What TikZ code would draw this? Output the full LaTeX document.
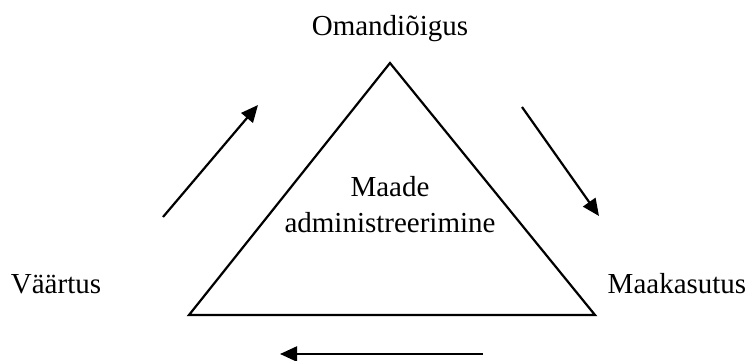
\documentclass[tikz,border=0pt]{standalone}
\usepackage{fontspec}
\setmainfont{Liberation Serif}
\usetikzlibrary{arrows.meta}
\begin{document}
\begin{tikzpicture}[x=0.5pt,y=-0.5pt,font=\fontsize{14.5}{18}\selectfont]
        \useasboundingbox (0,0) rectangle (752,360);
        % triangle
            \coordinate (top) at (390,63);
            \coordinate (left) at (189,315);
            \coordinate (right) at (595,315);
            \draw[line width=1.1pt,line join=miter] (top) -- (left) -- (right) -- cycle;
            \node[align=center] (admin) at (390,205) {Maade\\administreerimine};
        % arrows
            \foreach \n/\x/\y/\u/\v in {va/163/217/258/105,om/522/107/599/216,ma/483/354/280/354}{
                \coordinate (\n1) at (\x,\y);
                \coordinate (\n2) at (\u,\v);
                \draw[-{Triangle[length=8.5pt,width=7.5pt]},line width=1.1pt] (\n1) -- (\n2);
            }
        % labels
            \node[anchor=base] (omand) at (390,35) {Omandiõigus};
            \node[anchor=base] (vaartus) at (56,293) {Väärtus};
            \node[anchor=base] (maakas) at (677,293) {Maakasutus};
        \end{tikzpicture}
\end{document}
